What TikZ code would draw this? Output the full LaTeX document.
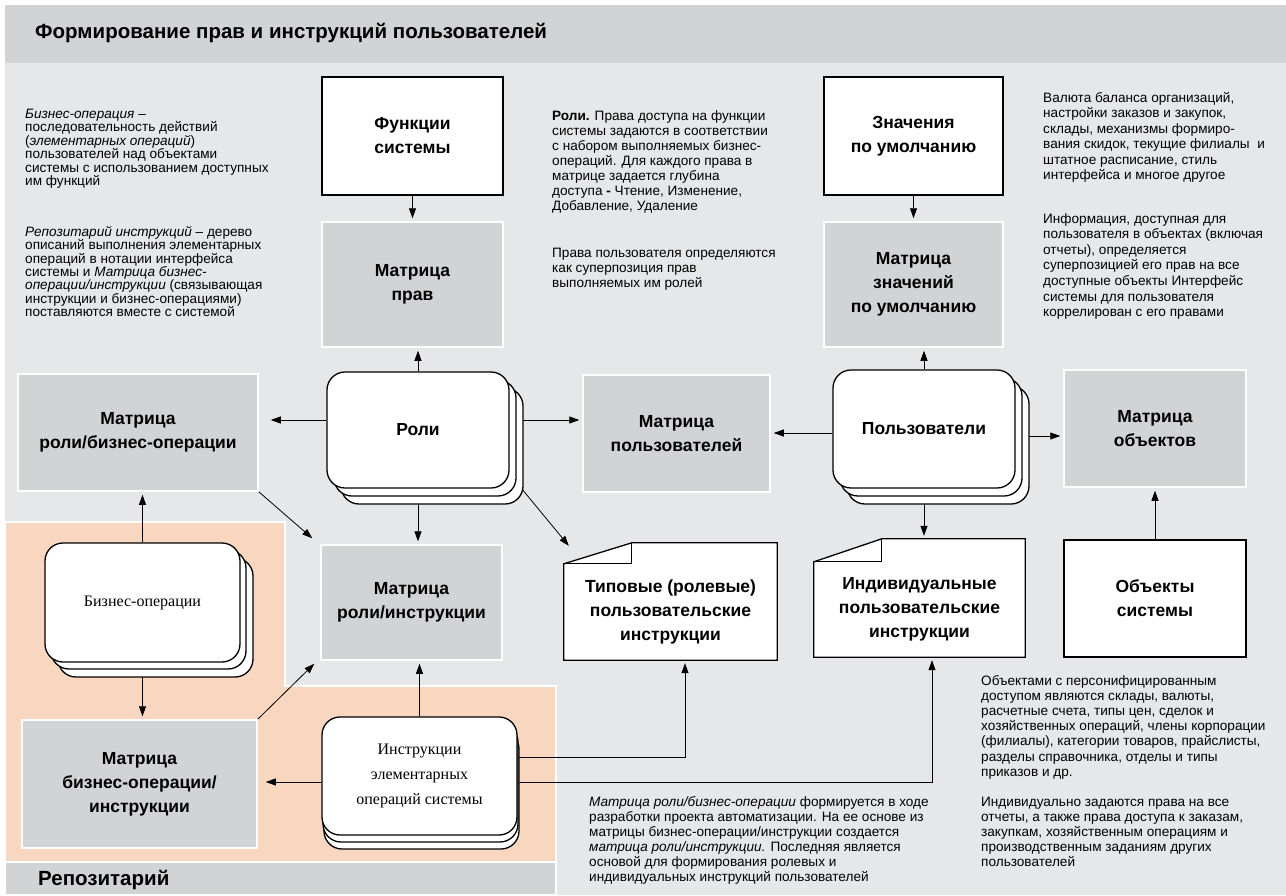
\documentclass[tikz,border=0pt]{standalone}
\usepackage{fontspec}
\setmainfont{Liberation Sans}
\newfontfamily\serifcyr{Liberation Serif}
\usetikzlibrary{arrows.meta, positioning, calc, backgrounds, shadows}

\definecolor{pagegray}{HTML}{E6E7E8}
\definecolor{bargray}{HTML}{D1D3D4}
\definecolor{peach}{HTML}{F9D6BF}

\newcommand{\lbl}{\fontsize{17.5}{24}\selectfont\bfseries}
\newcommand{\bodyfont}[1]{\fontsize{13.6}{#1}\selectfont}
\newcommand{\cardfont}{\serifcyr\fontsize{16}{25}\selectfont}

\begin{document}
\begin{tikzpicture}[
  x=1pt, y=-1pt,
  matrixbox/.style={fill=bargray, draw=white, line width=1.5pt, align=center, font=\lbl, inner sep=0pt},
  whitebox/.style={fill=white, draw=black, line width=1.3pt, align=center, font=\lbl, inner sep=0pt},
  card/.style={whitebox, rounded corners=18pt},
  cardstack/.style={
    copy shadow={shadow xshift=14pt, shadow yshift=-16pt, draw=black, fill=white, line width=1.3pt},
    copy shadow={shadow xshift=7pt, shadow yshift=-8pt, draw=black, fill=white, line width=1.3pt}},
  bostack/.style={
    copy shadow={shadow xshift=13pt, shadow yshift=-15pt, draw=black, fill=white, line width=1.3pt},
    copy shadow={shadow xshift=6pt, shadow yshift=-7pt, draw=black, fill=white, line width=1.3pt}},
  insstack/.style={
    copy shadow={shadow xshift=2pt, shadow yshift=-14pt, draw=black, fill=white, line width=1.3pt},
    copy shadow={shadow xshift=1pt, shadow yshift=-7pt, draw=black, fill=white, line width=1.3pt}},
  doclabel/.style={align=center, font=\lbl, inner sep=0pt},
  docshape/.style={fill=white, draw=black, line width=1.3pt},
  notetext/.style={anchor=north west, align=left, inner sep=0pt},
  arr/.style={-{Triangle[length=10pt,width=7pt]}, line width=0.8pt, shorten >=3pt}
]
\useasboundingbox (0,0) rectangle (1286,895);

% titles
\node[anchor=west, inner sep=0pt, font=\fontsize{20.5}{24}\selectfont\bfseries] (title) at (35,33) {Формирование прав и инструкций пользователей};
\node[anchor=west, inner sep=0pt, font=\fontsize{20.5}{24}\selectfont\bfseries] (repo) at (38,880) {Репозитарий};

% boxes
\node[whitebox, minimum width=181pt, minimum height=118pt] (fs) at (412.5,136) {Функции\\системы};
\node[matrixbox, minimum width=181pt, minimum height=125pt] (mp) at (412.5,284.5) {Матрица\\прав};
\node[whitebox, minimum width=179pt, minimum height=118pt] (dv) at (913.5,136) {Значения\\по умолчанию};
\node[matrixbox, minimum width=179pt, minimum height=125pt] (mz) at (913.5,284.5) {Матрица\\значений\\по умолчанию};
\node[matrixbox, minimum width=240pt, minimum height=117pt] (mrb) at (138,432.5) {Матрица\\роли/бизнес-операции};
\node[card, cardstack, minimum width=182pt, minimum height=116pt] (roles) at (418,430) {Роли};
\node[matrixbox, minimum width=187pt, minimum height=117pt] (mu) at (676.5,433.5) {Матрица\\пользователей};
\node[card, cardstack, minimum width=182pt, minimum height=118pt] (users) at (924,429) {Пользователи};
\node[matrixbox, minimum width=182pt, minimum height=117pt] (mo) at (1155,428.5) {Матрица\\объектов};
\node[card, bostack, font=\cardfont, minimum width=195pt, minimum height=119pt] (bo) at (142.5,602.5) {Бизнес-операции};
\node[matrixbox, minimum width=181pt, minimum height=115pt] (mri) at (411.5,602.5) {Матрица\\роли/инструкции};
\node[doclabel, minimum width=213pt, minimum height=96pt] (typ) at (670.5,612) {Типовые (ролевые)\\пользовательские\\инструкции};
\node[doclabel, minimum width=211pt, minimum height=95pt] (ind) at (919.5,609.5) {Индивидуальные\\пользовательские\\инструкции};
\node[whitebox, minimum width=182pt, minimum height=117pt] (obj) at (1155,598.5) {Объекты\\системы};
\node[matrixbox, minimum width=235pt, minimum height=128pt] (mbi) at (139.5,784) {Матрица\\бизнес-операции/\\инструкции};
\node[card, insstack, font=\cardfont, minimum width=195pt, minimum height=118pt] (ins) at (419.5,776) {Инструкции\\элементарных\\операций системы};

% notes
\node[notetext, font=\bodyfont{13.4}] (bizdef) at (25,109) {{\itshape Бизнес-операция} –\\
последовательность действий\\
({\itshape элементарных операций})\\
пользователей над объектами\\
системы с использованием доступных\\
им функций};
\node[notetext, font=\bodyfont{13.4}] (repodef) at (25,226) {{\itshape Репозитарий инструкций} – дерево\\
описаний выполнения элементарных\\
операций в нотации интерфейса\\
системы и {\itshape Матрица бизнес-}\\
{\itshape операции/инструкции} (связывающая\\
инструкции и бизнес-операциями)\\
поставляются вместе с системой};
\node[notetext, font=\bodyfont{15.1}] (rolesnote) at (552,110) {{\bfseries Роли.} Права доступа на функции\\
системы задаются в соответствии\\
с набором выполняемых бизнес-\\
операций. Для каждого права в\\
матрице задается глубина\\
доступа {\bfseries -} Чтение, Изменение,\\
Добавление, Удаление};
\node[notetext, font=\bodyfont{15}] (usersnote) at (552,248) {Права пользователя определяются\\
как суперпозиция прав\\
выполняемых им ролей};
\node[notetext, font=\bodyfont{15.5}] (defaultsnote) at (1043,92) {Валюта баланса организаций,\\
настройки заказов и закупок,\\
склады, механизмы формиро-\\
вания скидок, текущие филиалы\ \ и\\
штатное расписание, стиль\\
интерфейса и многое другое};
\node[notetext, font=\bodyfont{15.6}] (infonote) at (1043,213) {Информация, доступная для\\
пользователя в объектах (включая\\
отчеты), определяется\\
суперпозицией его прав на все\\
доступные объекты Интерфейс\\
системы для пользователя\\
коррелирован с его правами};
\node[notetext, font=\bodyfont{15.2}] (objnote) at (981,675) {Объектами с персонифицированным\\
доступом являются склады, валюты,\\
расчетные счета, типы цен, сделок и\\
хозяйственных операций, члены корпорации\\
(филиалы), категории товаров, прайслисты,\\
разделы справочника, отделы и типы\\
приказов и др.};
\node[notetext, font=\bodyfont{15}] (indivnote) at (981,797) {Индивидуально задаются права на все\\
отчеты, а также права доступа к заказам,\\
закупкам, хозяйственным операциям и\\
производственным заданиям других\\
пользователей};
\node[notetext, font=\bodyfont{15}] (matrixnote) at (589,796) {{\itshape Матрица роли/бизнес-операции} формируется в ходе\\
разработки проекта автоматизации. На ее основе из\\
матрицы бизнес-операции/инструкции создается\\
{\itshape матрица роли/инструкции.} Последняя является\\
основой для формирования ролевых и\\
индивидуальных инструкций пользователей};

\begin{scope}[on background layer]
% areas
\fill[white] (0,0) rectangle (1286,895);
\fill[pagegray] (5,5) rectangle (1286,895);
\fill[bargray] (5,5) rectangle (1286,63);
\filldraw[fill=peach, draw=white, line width=2pt] (5,522) -- (285,522) -- (285,686) -- (556,686) -- (556,862) -- (5,862) -- cycle;
\filldraw[fill=bargray, draw=white, line width=2pt] (5,862) rectangle (556,895);

% documents
\draw[docshape] (typ.south west) -- (typ.north west) -- ([shift={(68pt,21pt)}]typ.north west) -- ([yshift=21pt]typ.north east) -- (typ.south east) -- cycle;
\draw[line width=1.3pt] (typ.north west) -- ([xshift=68pt]typ.north west) -- ([shift={(68pt,21pt)}]typ.north west);
\draw[docshape] (ind.south west) -- (ind.north west) -- ([shift={(68pt,23pt)}]ind.north west) -- ([yshift=23pt]ind.north east) -- (ind.south east) -- cycle;
\draw[line width=1.3pt] (ind.north west) -- ([xshift=68pt]ind.north west) -- ([shift={(68pt,23pt)}]ind.north west);

% connectors
\draw[arr] (fs.south) -- (mp.north);
\draw[arr] (dv.south) -- (mz.north);
\draw[arr] (roles.north) -- (roles.north |- mp.south);
\draw[arr, shorten >=12pt] ([yshift=10pt]roles.west) -- ([yshift=10pt]roles.west -| mrb.east);
\draw[arr] ([yshift=10pt]roles.east) -- ([yshift=10pt]roles.east -| mu.west);
\draw[arr] (roles.south) -- (roles.south |- mri.north);
\draw[arr, shorten >=0pt] ([xshift=12pt]roles.south east) -- ([shift={(5pt,18pt)}]typ.north west);
\draw[arr] ([yshift=-4pt]users.west) -- ([yshift=-4pt]users.west -| mu.east);
\draw[arr] ([yshift=-7pt]users.east) -- ([yshift=-7pt]users.east -| mo.west);
\draw[arr] (users.north) -- (users.north |- mz.south);
\draw[arr] (users.south) -- ([yshift=23pt]users.south |- ind.north);
\draw[arr] (obj.north) -- (mo.south);
\draw[arr] (bo.north) -- (bo.north |- mrb.south);
\draw[arr] (bo.south) -- (bo.south |- mbi.north);
\draw[arr, shorten >=0pt] (mrb.south east) -- ([shift={(-8pt,6pt)}]mri.north west);
\draw[arr, shorten >=0pt] (mbi.north east) -- ([shift={(-6pt,-3pt)}]mri.south west);
\draw[arr, shorten >=8pt] ([yshift=-6pt]ins.west) -- ([yshift=-6pt]ins.west -| mbi.east);
\draw[arr] (ins.north) -- (ins.north |- mri.south);
\draw[arr] ([yshift=19pt]ins.east) -| ([xshift=14.5pt]typ.south);
\draw[arr] ([yshift=-6pt]ins.east) -| ([xshift=12.5pt]ind.south);
\end{scope}
\end{tikzpicture}
\end{document}
